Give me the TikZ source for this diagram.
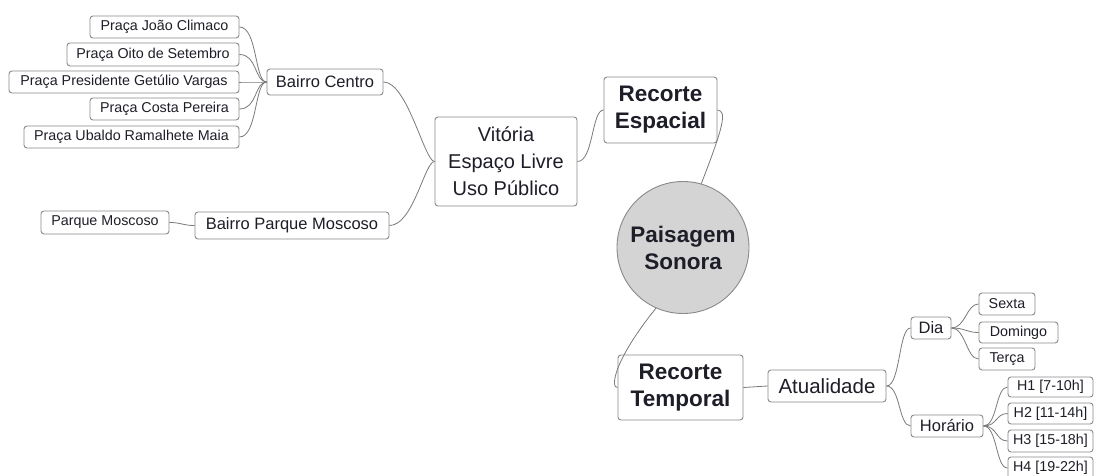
\documentclass[tikz,border=0pt]{standalone}
\usepackage{fontspec}
\setmainfont{Liberation Sans}
\definecolor{bordergray}{HTML}{8A8A8A}
\definecolor{linkgray}{HTML}{7A7A7A}
\definecolor{txt}{HTML}{1E1E28}
\definecolor{circfill}{HTML}{D4D4D4}
\begin{document}
\begin{tikzpicture}[x=1pt,y=-1pt,
  box/.style={draw=bordergray, line width=0.9pt, rounded corners=3pt, fill=white, text=txt, inner sep=0pt, align=center},
  leaf/.style={box, font=\fontsize{14.3}{16}\selectfont},
  mid/.style={box, font=\fontsize{16.5}{18}\selectfont},
  vitbox/.style={box, font=\fontsize{20}{27}\selectfont},
  atbox/.style={box, font=\fontsize{20.5}{22}\selectfont},
  big/.style={box, font=\bfseries\fontsize{22.5}{27}\selectfont},
  link/.style={draw=linkgray, line width=0.8pt}]
\useasboundingbox (0,0) rectangle (1096,476);
\fill[white] (0,0) rectangle (1096,476);

% left branch
\node[leaf, minimum width=149pt, minimum height=22pt] (pj) at (164.5,27) {Praça João Climaco};
\node[leaf, minimum width=172pt, minimum height=23pt] (po) at (153,54.5) {Praça Oito de Setembro};
\node[leaf, minimum width=230pt, minimum height=22pt] (pp) at (124,82) {Praça Presidente Getúlio Vargas};
\node[leaf, minimum width=149pt, minimum height=22pt] (pc) at (164.5,109) {Praça Costa Pereira};
\node[leaf, minimum width=215pt, minimum height=22pt] (pu) at (131.5,137) {Praça Ubaldo Ramalhete Maia};
\node[mid, minimum width=116pt, minimum height=26pt] (bc) at (325,82) {Bairro Centro};
\node[leaf, minimum width=128pt, minimum height=23pt] (pm) at (105,222.5) {Parque Moscoso};
\node[mid, minimum width=194pt, minimum height=27pt] (bpm) at (292,225.5) {Bairro Parque Moscoso};
\node[vitbox, minimum width=142pt, minimum height=89pt] (vit) at (506,161.5) {Vitória\\Espaço Livre\\Uso Público};
\node[big, minimum width=113pt, minimum height=66pt] (re) at (660.5,110) {Recorte\\Espacial};

% centre
\node[circle, draw=bordergray, line width=0.9pt, fill=circfill, text=txt, minimum size=132pt, inner sep=0pt, align=center, font=\bfseries\fontsize{22.5}{27}\selectfont] (ps) at (683,247.5) {Paisagem\\Sonora};

% right branch
\node[big, minimum width=125pt, minimum height=65pt] (rt) at (680.5,387.5) {Recorte\\Temporal};
\node[atbox, minimum width=118pt, minimum height=32pt] (at) at (827,386) {Atualidade};
\node[mid, minimum width=40pt, minimum height=22pt] (dia) at (931,328) {Dia};
\node[mid, minimum width=72pt, minimum height=22pt] (hor) at (947,426) {Horário};
\node[leaf, minimum width=56pt, minimum height=22pt] (sx) at (1007,304) {Sexta};
\node[leaf, minimum width=79pt, minimum height=21pt] (dom) at (1018.5,332.5) {Domingo};
\node[leaf, minimum width=56pt, minimum height=22pt] (ter) at (1007,359) {Terça};
\node[leaf, minimum width=85pt, minimum height=20pt] (h1) at (1050.5,387) {H1 [7-10h]};
\node[leaf, minimum width=85pt, minimum height=21pt] (h2) at (1050.5,413.5) {H2 [11-14h]};
\node[leaf, minimum width=85pt, minimum height=22pt] (h3) at (1050.5,441) {H3 [15-18h]};
\node[leaf, minimum width=85pt, minimum height=22pt] (h4) at (1050.5,468) {H4 [19-22h]};

% connectors
\foreach \n in {pj,po,pp,pc,pu}
  \draw[link] (\n.east) .. controls +(18,0) and +(-12,0) .. (bc.west);
\draw[link] (pm.east) .. controls +(12,0) and +(-12,0) .. (bpm.west);
\draw[link] (bc.east) .. controls +(24,0) and +(-10,0) .. (vit.west);
\draw[link] (bpm.east) .. controls +(24,0) and +(-10,0) .. (vit.west);
\draw[link] (vit.east) .. controls +(16,0) and +(-12,0) .. (re.west);
\draw[link] (ps.74) .. controls (724,125) and (727,111) .. (re.east);
\draw[link] (ps.246) .. controls (614,360) and (610,388) .. (rt.west);
\draw[link] (rt.east) .. controls +(12,0) and +(-12,0) .. (at.west);
\draw[link] (at.east) .. controls +(14,0) and +(-12,0) .. (dia.west);
\draw[link] (at.east) .. controls +(14,0) and +(-12,0) .. (hor.west);
\foreach \n in {sx,dom,ter}
  \draw[link] (dia.east) .. controls +(14,0) and +(-12,0) .. (\n.west);
\foreach \n in {h1,h2,h3,h4}
  \draw[link] (hor.east) .. controls +(14,0) and +(-12,0) .. (\n.west);
\end{tikzpicture}
\end{document}
